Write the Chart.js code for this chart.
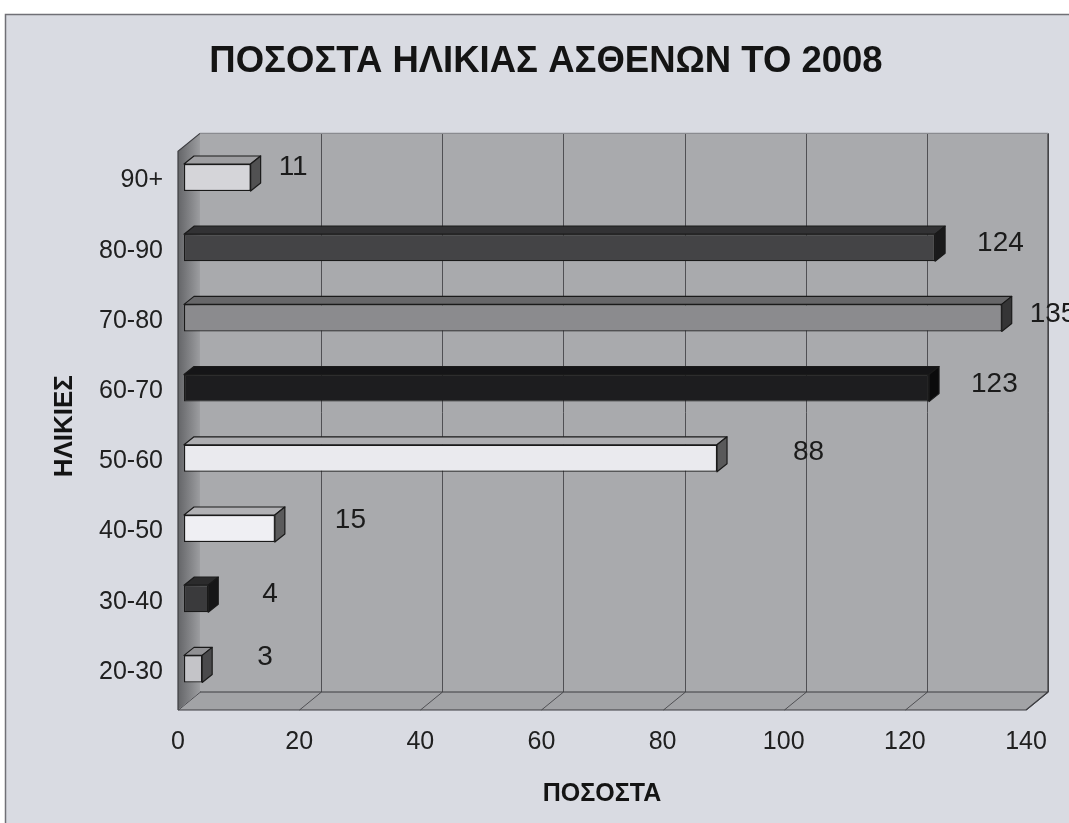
<!DOCTYPE html>
<html>
<head>
<meta charset="utf-8">
<script src="https://cdn.jsdelivr.net/npm/chart.js@4/dist/chart.umd.min.js"></script>
<style>
  html, body { margin: 0; padding: 0; background: #ffffff; overflow: hidden; }
  canvas { display: block; }
</style>
</head>
<body>
<canvas id="ages" width="1069" height="823"></canvas>
<script>
// Age groups (bottom to top) and patient figures for 2008
const categories = ['20-30', '30-40', '40-50', '50-60', '60-70', '70-80', '80-90', '90+'];
const patients = [3, 4, 15, 88, 123, 135, 124, 11];
const tickValues = [0, 20, 40, 60, 80, 100, 120, 140];

const chartTitle = 'ΠΟΣΟΣΤΑ ΗΛΙΚΙΑΣ ΑΣΘΕΝΩΝ ΤΟ 2008';
const xTitle = 'ΠΟΣΟΣΤΑ';
const yTitle = 'ΗΛΙΚΙΕΣ';

// Styling: bar face colours and value-label nudges (px from bar end / bar centre)
const barFill = ['#c4c4c8', '#3a3a3c', '#efeff3', '#eaeaee', '#1d1d1f', '#8b8b8e', '#444446', '#d5d5d9'];
const labelNudge = [[55, -12], [54, -4], [60, -8], [76, -6], [42, -4], [28, -4], [42, -4.5], [28, -10.5]];

const FONT = "'Liberation Sans', Arial, Helvetica, sans-serif";
const DEPTH = { wallX: 22, wallY: 18, barX: 10, barY: 8, shiftX: 6, shiftY: -3 };

function shade(hex, f) {
  const n = parseInt(hex.slice(1), 16);
  const r = Math.round(((n >> 16) & 255) * f);
  const g = Math.round(((n >> 8) & 255) * f);
  const b = Math.round((n & 255) * f);
  return `rgb(${r},${g},${b})`;
}

// Back wall, side wall, floor and gridlines of the 3D box
const scene3d = {
  id: 'scene3d',
  beforeDraw(chart) {
    const { ctx, chartArea: a, scales: { x } } = chart;
    const W = chart.width, H = chart.height;
    ctx.save();
    ctx.fillStyle = '#ffffff';
    ctx.fillRect(0, 0, W, H);
    ctx.fillStyle = '#d9dbe2';
    ctx.fillRect(5, 14, W - 5, H - 14);
    ctx.strokeStyle = '#707076';
    ctx.lineWidth = 1.5;
    ctx.beginPath();
    ctx.moveTo(5.5, H); ctx.lineTo(5.5, 14.5); ctx.lineTo(W, 14.5);
    ctx.stroke();

    const dx = DEPTH.wallX, dy = DEPTH.wallY;
    const L = a.left, R = a.right;
    const floorFront = a.bottom + 3, floorBack = floorFront - dy;
    const backTop = a.top - 12;

    // back wall
    ctx.fillStyle = '#a9aaad';
    ctx.fillRect(L + dx, backTop, R - L, floorBack - backTop);

    // left wall
    const g = ctx.createLinearGradient(L, 0, L + dx, 0);
    g.addColorStop(0, '#646568');
    g.addColorStop(1, '#9c9da0');
    ctx.fillStyle = g;
    ctx.beginPath();
    ctx.moveTo(L, backTop + dy); ctx.lineTo(L + dx, backTop);
    ctx.lineTo(L + dx, floorBack); ctx.lineTo(L, floorFront);
    ctx.closePath(); ctx.fill();

    // floor
    ctx.fillStyle = '#a2a3a6';
    ctx.beginPath();
    ctx.moveTo(L, floorFront); ctx.lineTo(L + dx, floorBack);
    ctx.lineTo(R + dx, floorBack); ctx.lineTo(R, floorFront);
    ctx.closePath(); ctx.fill();

    // gridlines on the back wall and floor
    ctx.strokeStyle = '#505054';
    ctx.lineWidth = 1;
    tickValues.forEach(v => {
      const px = Math.round(x.getPixelForValue(v)) + 0.5;
      ctx.beginPath();
      if (v > 0) { ctx.moveTo(px + dx, backTop); ctx.lineTo(px + dx, floorBack); }
      ctx.moveTo(px + dx, floorBack); ctx.lineTo(px, floorFront);
      ctx.stroke();
    });

    // box edges
    ctx.strokeStyle = '#3c3c40';
    ctx.lineWidth = 1.2;
    ctx.beginPath();
    ctx.moveTo(L + dx, floorBack); ctx.lineTo(R + dx, floorBack);
    ctx.moveTo(L, floorFront); ctx.lineTo(R, floorFront); ctx.lineTo(R + dx, floorBack);
    ctx.lineTo(R + dx, backTop);
    ctx.moveTo(L, floorFront); ctx.lineTo(L, backTop + dy); ctx.lineTo(L + dx, backTop);
    ctx.stroke();
    ctx.strokeStyle = '#8a8b90';
    ctx.beginPath();
    ctx.moveTo(L + dx, backTop); ctx.lineTo(R + dx, backTop);
    ctx.stroke();
    ctx.restore();
  },
  beforeDatasetsDraw(chart) {
    chart.ctx.save();
    chart.ctx.translate(DEPTH.shiftX, DEPTH.shiftY);
  },
  afterDatasetsDraw(chart) {
    const ctx = chart.ctx;
    const meta = chart.getDatasetMeta(0);
    meta.data.forEach((el, i) => {
      const { x, y, base, height } = el.getProps(['x', 'y', 'base', 'height'], true);
      const t = y - height / 2, b = y + height / 2;
      const bx = DEPTH.barX, by = DEPTH.barY;
      ctx.lineWidth = 1.2;
      ctx.strokeStyle = '#1a1a1a';
      ctx.lineJoin = 'round';
      // top face
      ctx.fillStyle = shade(barFill[i], 0.74);
      ctx.beginPath();
      ctx.moveTo(base, t); ctx.lineTo(x, t); ctx.lineTo(x + bx, t - by); ctx.lineTo(base + bx, t - by);
      ctx.closePath(); ctx.fill(); ctx.stroke();
      // side face
      ctx.fillStyle = shade(barFill[i], 0.38);
      ctx.beginPath();
      ctx.moveTo(x, t); ctx.lineTo(x + bx, t - by); ctx.lineTo(x + bx, b - by); ctx.lineTo(x, b);
      ctx.closePath(); ctx.fill(); ctx.stroke();
    });
    // value labels
    ctx.fillStyle = '#1b1b1b';
    ctx.font = `28px ${FONT}`;
    ctx.textAlign = 'left';
    ctx.textBaseline = 'middle';
    meta.data.forEach((el, i) => {
      const { x, y } = el.getProps(['x', 'y'], true);
      ctx.fillText(String(patients[i]), x + labelNudge[i][0], y + labelNudge[i][1]);
    });
    ctx.restore();
  },
  afterDraw(chart) {
    const ctx = chart.ctx;
    ctx.save();
    ctx.fillStyle = '#141414';
    ctx.font = `bold 36.5px ${FONT}`;
    ctx.textAlign = 'center';
    ctx.textBaseline = 'middle';
    ctx.fillText(chartTitle, 546, 62);
    ctx.restore();
  }
};

new Chart(document.getElementById('ages'), {
  type: 'bar',
  data: {
    labels: categories,
    datasets: [{
      data: patients,
      backgroundColor: barFill,
      borderColor: '#1a1a1a',
      borderWidth: 1.2,
      borderSkipped: false,
      barPercentage: 0.385,
      categoryPercentage: 1
    }]
  },
  options: {
    indexAxis: 'y',
    responsive: false,
    animation: false,
    devicePixelRatio: 1,
    layout: { padding: { top: 145.4, right: 43, bottom: 0, left: 0 } },
    plugins: {
      legend: { display: false },
      title: { display: false },
      tooltip: { enabled: false }
    },
    scales: {
      x: {
        min: 0,
        max: 140,
        afterBuildTicks: s => { s.ticks = tickValues.map(v => ({ value: v })); },
        afterFit: s => { s.height = 116; },
        grid: { display: false, drawTicks: false },
        border: { display: false },
        ticks: { color: '#202020', font: { family: FONT, size: 25 }, padding: 20, maxRotation: 0 },
        title: {
          display: true, text: xTitle, color: '#141414',
          font: { family: FONT, size: 25, weight: 'bold' },
          padding: { top: 0, bottom: 14 }
        }
      },
      y: {
        reverse: true,
        offset: true,
        afterFit: s => { s.width = 178; },
        grid: { display: false, drawTicks: false },
        border: { display: false },
        ticks: { color: '#202020', font: { family: FONT, size: 25 }, padding: 15 },
        title: {
          display: true, text: yTitle, color: '#141414',
          font: { family: FONT, size: 26, weight: 'bold' },
          padding: { top: 49, bottom: 0 }
        }
      }
    }
  },
  plugins: [scene3d]
});
</script>
</body>
</html>
